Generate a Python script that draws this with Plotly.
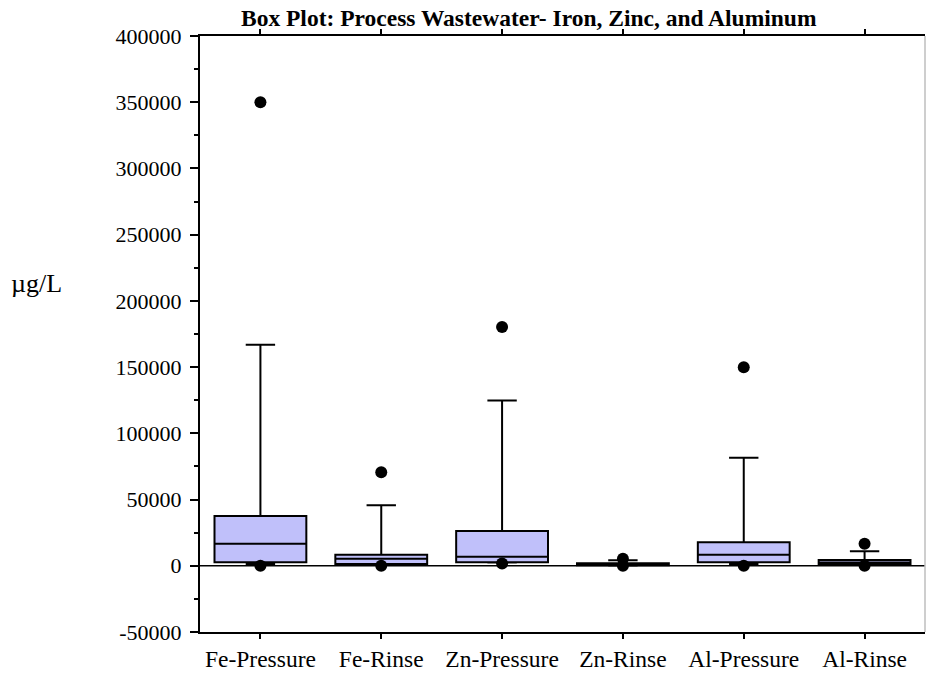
import plotly.graph_objects as go

# Sample groups
categories = ["Fe-Pressure", "Fe-Rinse", "Zn-Pressure", "Zn-Rinse", "Al-Pressure", "Al-Rinse"]

# Box statistics (µg/L)
lower_whisker = [1400, 900, 2400, 300, 1400, 600]
q1_values = [2600, 1400, 2600, 400, 2600, 900]
median_values = [16700, 5400, 6900, 1000, 8400, 2500]
q3_values = [37600, 8400, 26300, 2000, 17700, 4400]
upper_whisker = [166900, 45700, 124700, 4200, 81600, 11000]

# Extreme values shown as dots beyond the whiskers
high_points = [350000, 70600, 180300, 5400, 149900, 16700]
low_points = [0, 0, 1800, 0, 0, 0]

tick_values = [-50000, 0, 50000, 100000, 150000, 200000, 250000, 300000, 350000, 400000]
tick_labels = [str(v) for v in tick_values]

serif = "Liberation Serif, Times New Roman, serif"

fig = go.Figure()

fig.add_trace(go.Box(
    x=categories,
    q1=q1_values,
    median=median_values,
    q3=q3_values,
    lowerfence=lower_whisker,
    upperfence=upper_whisker,
    fillcolor="rgb(192,192,250)",
    line=dict(color="black", width=2),
    whiskerwidth=0.32,
    width=0.76,
    boxpoints=False,
    showlegend=False,
    hoverinfo="skip",
))

fig.add_trace(go.Scatter(
    x=categories + categories,
    y=high_points + low_points,
    mode="markers",
    marker=dict(color="black", size=12),
    showlegend=False,
    hoverinfo="skip",
))

fig.update_layout(
    width=926,
    height=674,
    margin=dict(l=200, r=1, t=36, b=42),
    paper_bgcolor="white",
    plot_bgcolor="white",
    font=dict(family=serif, size=22, color="black"),
    title=dict(
        text="<b>Box Plot: Process Wastewater- Iron, Zinc, and Aluminum</b>",
        x=0.571, xanchor="center", y=0.973, yanchor="middle",
        font=dict(family=serif, size=23.5, color="black"),
    ),
    shapes=[
        dict(type="line", xref="paper", yref="y", x0=0, x1=1, y0=0, y1=0,
             line=dict(color="black", width=1.5)),
        dict(type="line", xref="paper", yref="paper", x0=1, x1=1, y0=0, y1=1,
             line=dict(color="rgb(190,190,190)", width=1.5)),
    ],
    annotations=[
        dict(text="µg/L", xref="paper", yref="paper", x=-0.2262, y=0.584,
             xanchor="center", yanchor="middle", showarrow=False,
             font=dict(family=serif, size=26, color="black")),
    ],
)

fig.update_xaxes(
    type="category",
    range=[-0.5, 5.5],
    automargin=False,
    showline=True, linecolor="black", linewidth=2,
    mirror="ticks",
    ticks="outside", ticklen=5, tickwidth=1.5, tickcolor="black",
    showgrid=False, zeroline=False,
    tickfont=dict(family=serif, size=23.5),
)

fig.update_yaxes(
    range=[-50000, 400000],
    automargin=False,
    tickvals=tick_values, ticktext=tick_labels,
    showline=True, linecolor="black", linewidth=2,
    ticks="outside", ticklen=8, tickwidth=1.5, tickcolor="black",
    ticklabelstandoff=4,
    minor=dict(dtick=25000, tick0=0, ticks="outside", ticklen=4, tickwidth=1.5, tickcolor="black"),
    showgrid=False, zeroline=False,
    tickfont=dict(family=serif, size=22),
)

fig.write_html("out.html")
